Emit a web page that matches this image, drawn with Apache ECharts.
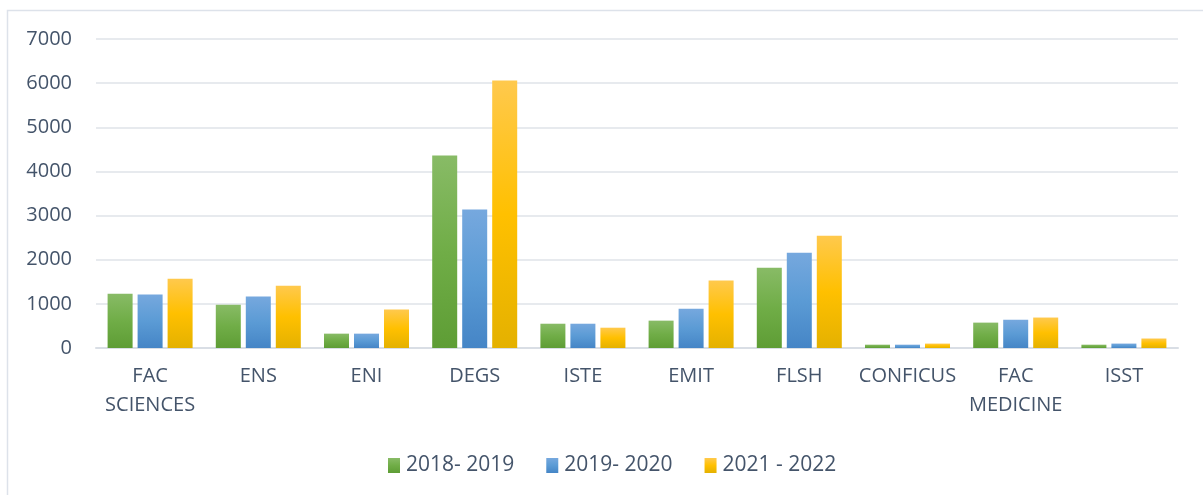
<!DOCTYPE html>
<html>
<head>
<meta charset="utf-8">
<script src="https://cdn.jsdelivr.net/npm/echarts@6/dist/echarts.min.js"></script>
<style>
html,body{margin:0;padding:0;background:#fff;}
#chart{width:1203px;height:495px;}
</style>
</head>
<body>
<div id="chart"></div>
<script>
const categories = ['FAC\nSCIENCES', 'ENS', 'ENI', 'DEGS', 'ISTE', 'EMIT', 'FLSH', 'CONFICUS', 'FAC\nMEDICINE', 'ISST'];
const seriesNames = ['2018- 2019', '2019- 2020', '2021 - 2022'];
const values2018 = [1230, 980, 325, 4360, 550, 620, 1820, 75, 575, 75];
const values2019 = [1210, 1165, 325, 3135, 550, 890, 2160, 75, 640, 100];
const values2021 = [1570, 1410, 870, 6060, 460, 1530, 2545, 100, 690, 215];
const yTicks = [0, 1000, 2000, 3000, 4000, 5000, 6000, 7000];

function grad(c0, c1, c2) {
  return new echarts.graphic.LinearGradient(0, 0, 0, 1, [
    {offset: 0, color: c0}, {offset: 0.5, color: c1}, {offset: 1, color: c2}
  ]);
}
const colors = [
  grad('#88bb66', '#70ad47', '#5e9d35'),
  grad('#76a8de', '#5b9bd5', '#4585c6'),
  grad('#ffc94d', '#ffc000', '#e4b100')
];
const font = '"Open Sans", "Liberation Sans", sans-serif';
const textColor = '#44546a';

const chart = echarts.init(document.getElementById('chart'));
const data = [values2018, values2019, values2021];
chart.setOption({
  animation: false,
  backgroundColor: '#ffffff',
  graphic: [{
    type: 'rect', silent: true,
    shape: {x: 7.5, y: 10.5, width: 1400, height: 700},
    style: {fill: 'none', stroke: '#dde2ea', lineWidth: 1.5}
  }],
  grid: {left: 96, right: 25, top: 39, bottom: 147, containLabel: false},
  legend: {
    data: seriesNames,
    top: 450,
    left: 383,
    itemWidth: 12, itemHeight: 15, itemGap: 32,
    icon: 'rect',
    textStyle: {color: textColor, fontSize: 21, fontFamily: font, padding: [0, 0, 0, 1]}
  },
  xAxis: {
    type: 'category',
    data: categories,
    axisLine: {lineStyle: {color: '#d9dee5', width: 2}},
    axisTick: {show: false},
    axisLabel: {color: textColor, fontSize: 20, fontFamily: font, lineHeight: 29, margin: 14, interval: 0}
  },
  yAxis: {
    type: 'value',
    min: yTicks[0], max: yTicks[yTicks.length - 1], interval: 1000,
    axisLine: {show: false}, axisTick: {show: false},
    axisLabel: {color: textColor, fontSize: 20, fontFamily: font, margin: 24, formatter: v => String(v)},
    splitLine: {lineStyle: {color: '#dfe3e9', width: 1.5}}
  },
  series: seriesNames.map((n, i) => ({
    name: n,
    type: 'bar',
    data: data[i],
    barWidth: 25,
    barGap: '20%',
    itemStyle: {color: colors[i]}
  }))
});
</script>
</body>
</html>
